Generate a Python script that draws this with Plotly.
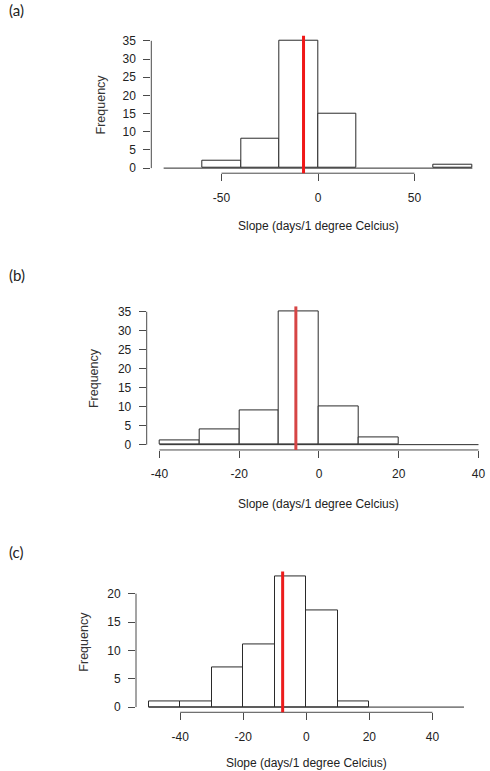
import plotly.graph_objects as go

W, H = 490, 771

# ---------------- data ----------------
a_edges = [-80, -60, -40, -20, 0, 20, 40, 60, 80]
a_counts = [0, 2, 8, 35, 15, 0, 0, 1]
a_mean = -7.5
a_xticks = [-50, 0, 50]
a_yticks = [0, 5, 10, 15, 20, 25, 30, 35]

b_edges = [-40, -30, -20, -10, 0, 10, 20, 30, 40]
b_counts = [1, 4, 9, 35, 10, 2, 0, 0]
b_mean = -5.8
b_xticks = [-40, -20, 0, 20, 40]
b_yticks = [0, 5, 10, 15, 20, 25, 30, 35]

c_edges = [-50, -40, -30, -20, -10, 0, 10, 20, 30, 40, 50]
c_counts = [1, 1, 7, 11, 23, 17, 1, 0, 0, 0]
c_mean = -7.5
c_xticks = [-40, -20, 0, 20, 40]
c_yticks = [0, 5, 10, 15, 20]

panel_labels = ["(a)", "(b)", "(c)"]
x_title = "Slope (days/1 degree Celcius)"
y_title = "Frequency"

# ---------------- layout (pixel boxes) ----------------
panels = [
    dict(edges=a_edges, counts=a_counts, mean=a_mean, xt=a_xticks, yt=a_yticks,
         box=(151.3, 484.7, 33.9, 172.1), xr=(-86.4, 86.4), red="#f01818",
         lab=(16, 8), ytl=(101, 103), xtl=(318, 225)),
    dict(edges=b_edges, counts=b_counts, mean=b_mean, xt=b_xticks, yt=b_yticks,
         box=(146.7, 490.0, 306.0, 450.3), xr=(-43.2, 42.88), red="#d64545",
         lab=(17, 274), ytl=(94, 378), xtl=(318, 505)),
    dict(edges=c_edges, counts=c_counts, mean=c_mean, xt=c_xticks, yt=c_yticks,
         box=(136.0, 476.6, 572.4, 714.0), xr=(-54.0, 54.0), red="#ec1c1c",
         lab=(16, 553), ytl=(84, 643), xtl=(306, 765)),
]

FONT = "Liberation Sans, Arial, sans-serif"
AXC = "#4a4a4a"
BARC = "#2a2a2a"

fig = go.Figure()
shapes = []
annotations = []
layout_axes = {}

for i, p in enumerate(panels):
    n = "" if i == 0 else str(i + 1)
    xa, ya = "x" + n, "y" + n
    edges, counts = p["edges"], p["counts"]
    centers = [(edges[k] + edges[k + 1]) / 2 for k in range(len(counts))]
    widths = [edges[k + 1] - edges[k] for k in range(len(counts))]
    nz = [k for k in range(len(counts)) if counts[k] > 0]
    # baseline of the histogram (zero-count bins drawn as flat rectangles)
    fig.add_trace(go.Scatter(x=[edges[0], edges[-1]], y=[0, 0], mode="lines",
                             line=dict(color=BARC, width=1), xaxis=xa, yaxis=ya,
                             showlegend=False, hoverinfo="skip"))
    fig.add_trace(go.Bar(x=[centers[k] for k in nz], y=[counts[k] for k in nz],
                         width=[widths[k] for k in nz],
                         marker=dict(color="white", line=dict(color=BARC, width=1)),
                         xaxis=xa, yaxis=ya, showlegend=False))
    ymax = max(counts)
    yr = (-0.04 * ymax, ymax * 1.04)
    L, R, T, B = p["box"]
    layout_axes["xaxis" + n] = dict(
        domain=[L / W, R / W], range=list(p["xr"]), anchor=ya,
        tickvals=p["xt"], ticktext=[str(v) for v in p["xt"]],
        ticks="outside", ticklen=7, tickcolor=AXC, tickwidth=1,
        showline=False, showgrid=False, zeroline=False,
        ticklabelstandoff=6,
        tickfont=dict(family=FONT, size=12, color="#222"))
    layout_axes["yaxis" + n] = dict(
        domain=[1 - B / H, 1 - T / H], range=list(yr), anchor=xa,
        tickvals=p["yt"], ticktext=[str(v) for v in p["yt"]],
        ticks="outside", ticklen=7, tickcolor=AXC, tickwidth=1,
        showline=False, showgrid=False, zeroline=False,
        ticklabelstandoff=5,
        tickfont=dict(family=FONT, size=12, color="#222"))
    # R-style axis lines spanning only the tick range
    shapes.append(dict(type="line", xref=xa, yref=ya + " domain",
                       x0=p["xt"][0], x1=p["xt"][-1], y0=0, y1=0,
                       line=dict(color=AXC, width=1)))
    shapes.append(dict(type="line", xref=xa + " domain", yref=ya,
                       x0=0, x1=0, y0=p["yt"][0], y1=p["yt"][-1],
                       line=dict(color=AXC, width=1)))
    # red vertical line (mean)
    shapes.append(dict(type="line", xref=xa, yref=ya + " domain",
                       x0=p["mean"], x1=p["mean"], y0=0, y1=1,
                       line=dict(color=p["red"], width=3)))
    # texts
    lx, ly = p["lab"]
    annotations.append(dict(text=panel_labels[i], x=lx / W, y=1 - ly / H,
                            xref="paper", yref="paper", showarrow=False,
                            xanchor="center", yanchor="middle",
                            font=dict(family="Lato, Carlito, sans-serif", size=15, color="#222")))
    tx, ty = p["ytl"]
    annotations.append(dict(text=y_title, x=tx / W, y=1 - ty / H, textangle=-90,
                            xref="paper", yref="paper", showarrow=False,
                            xanchor="center", yanchor="middle",
                            font=dict(family=FONT, size=12.5, color="#333")))
    tx, ty = p["xtl"]
    annotations.append(dict(text=x_title, x=tx / W, y=1 - ty / H,
                            xref="paper", yref="paper", showarrow=False,
                            xanchor="center", yanchor="middle",
                            font=dict(family=FONT, size=12, color="#222")))

fig.update_layout(
    width=W, height=H,
    margin=dict(l=0, r=0, t=0, b=0),
    paper_bgcolor="white", plot_bgcolor="white",
    bargap=0, showlegend=False,
    shapes=shapes, annotations=annotations,
    **layout_axes,
)

fig.write_html("out.html", config={"displayModeBar": False})
